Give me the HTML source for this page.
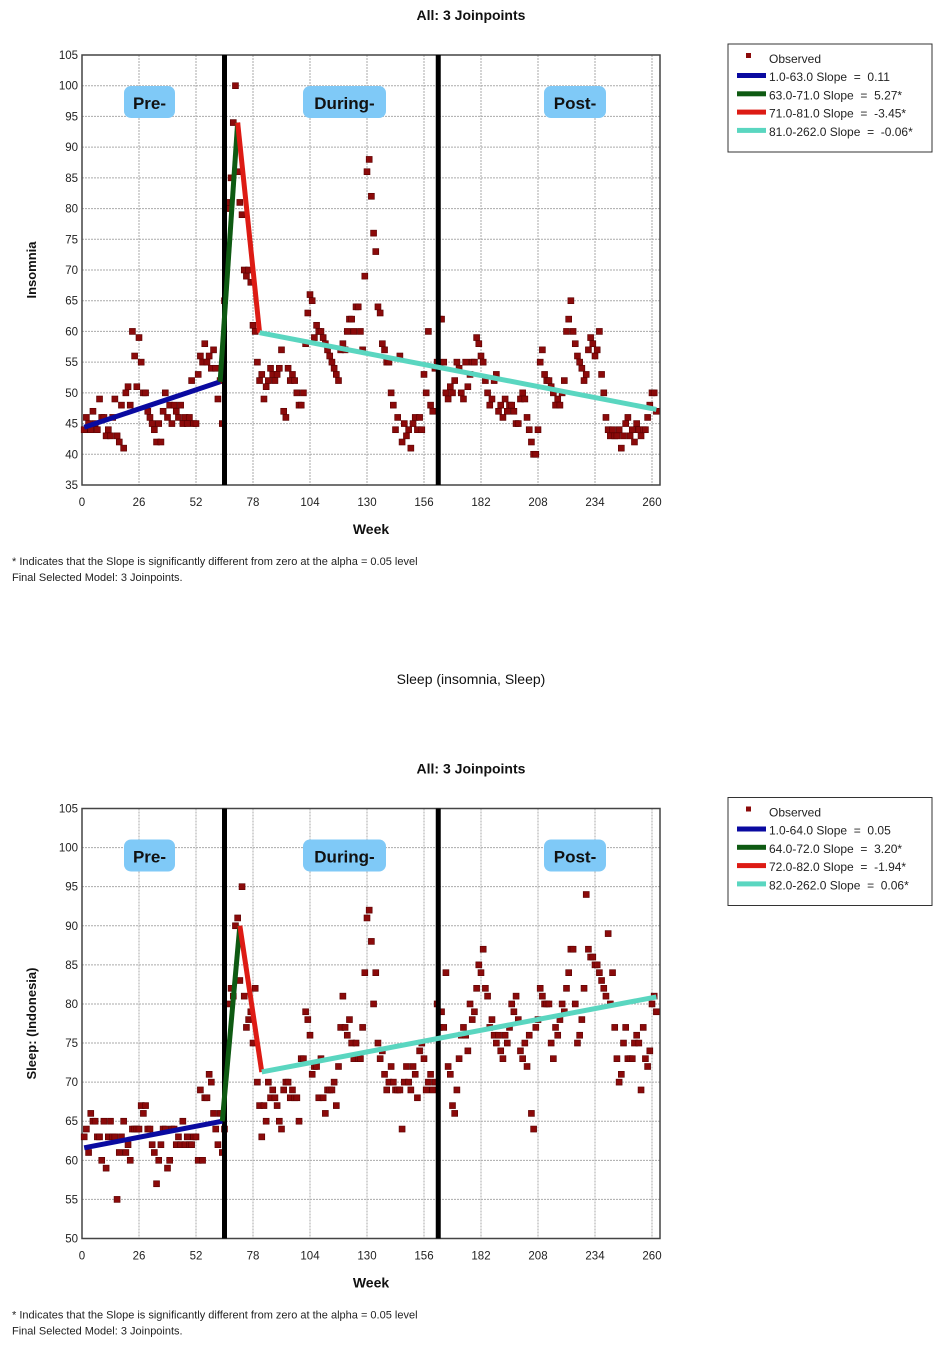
<!DOCTYPE html>
<html><head><meta charset="utf-8">
<style>
html,body{margin:0;padding:0;background:#fff;}
body{width:935px;height:1347px;overflow:hidden;font-family:"Liberation Sans",sans-serif;}
svg text{font-family:"Liberation Sans",sans-serif;}
.pre{white-space:pre;}
</style></head>
<body>
<svg id="root" width="935" height="1347" viewBox="0 0 935 1347" xmlns="http://www.w3.org/2000/svg">
<text x="471" y="684" text-anchor="middle" font-size="14" fill="#111">Sleep (insomnia, Sleep)</text>
</svg>
<script>
// ===== Chart 1: Insomnia =====
const xTicks = [0,26,52,78,104,130,156,182,208,234,260];
const yTicksTop = [35,40,45,50,55,60,65,70,75,80,85,90,95,100,105];
const yTicksBot = [50,55,60,65,70,75,80,85,90,95,100,105];
const insomniaObserved = [
44,46,45,44,47,45,44,49,46,46,
43,44,43,46,49,43,42,48,41,50,
51,48,60,56,51,59,55,50,50,47,
46,45,44,42,45,42,47,50,46,48,
45,48,47,46,48,45,46,45,46,52,
45,45,53,56,55,58,55,56,54,57,54,49,52,
45,65,81,80,85,94,100,86,81,
79,70,69,70,68,61,60,55,
52,53,49,51,52,54,53,52,53,54,57,47,46,54,52,53,52,50,48,48,
50,58,63,66,65,59,61,60,60,59,
58,57,56,55,54,53,52,57,58,57,
60,62,62,60,64,64,60,57,69,86,
88,82,76,73,64,63,58,57,55,55,
50,48,44,46,56,42,45,43,44,41,
45,46,44,46,44,53,50,60,48,47,54,55,
62,62,55,50,49,51,50,52,
55,54,50,49,55,51,53,55,55,59,
58,56,55,52,50,48,49,52,53,47,
48,46,49,47,48,48,47,45,45,49,
50,49,46,44,42,40,40,44,55,57,
53,52,52,51,50,48,49,48,50,52,
60,62,65,60,58,56,55,54,52,53,
57,59,58,56,57,60,53,50,46,44,
43,44,43,43,44,41,43,45,46,43,
44,42,45,44,43,44,44,46,48,50,50,47];
const insomniaJoinWeeks = [1,63,71,81,262];
const insomniaJoinValues = [44.4,51.8,94,59.8,47.3];
const insomniaLegend = ["1.0-63.0 Slope  =  0.11","63.0-71.0 Slope  =  5.27*","71.0-81.0 Slope  =  -3.45*","81.0-262.0 Slope  =  -0.06*"];

// ===== Chart 2: Sleep =====
const sleepObserved = [
63,64,61,66,65,65,63,63,60,65,
59,63,65,63,63,55,61,63,65,61,
62,60,64,64,64,64,67,66,67,64,
64,62,61,57,60,62,64,64,59,60,
64,64,62,63,62,65,62,63,62,62,
63,63,60,69,60,68,68,71,70,66,64,62,66,
61,64,75,80,82,81,90,91,83,
95,81,77,78,79,75,82,70,67,63,
67,65,70,68,69,68,67,65,64,69,70,70,68,69,68,68,65,73,
73,79,78,76,71,72,72,68,73,68,
66,69,69,69,70,67,72,77,81,77,
76,78,75,73,75,73,73,77,84,91,
92,88,80,84,75,73,74,71,69,70,
72,70,69,69,69,64,70,72,70,69,
72,71,68,74,75,73,69,70,71,69,70,80,
77,79,77,84,72,71,67,66,
69,73,76,77,76,74,80,78,79,82,
85,84,87,82,81,77,78,76,75,76,
74,73,76,75,77,80,79,81,78,74,
73,75,72,76,66,64,77,78,82,81,
80,80,80,75,73,77,76,78,80,79,
82,84,87,87,80,75,76,78,82,94,
87,86,86,85,85,84,83,82,81,89,
80,84,77,73,70,71,75,77,73,73,
73,75,76,75,69,77,73,72,74,80,81,79];
const sleepJoinWeeks = [1,64,72,82,262];
const sleepJoinValues = [61.6,65,90,71.3,80.9];
const sleepLegend = ["1.0-64.0 Slope  =  0.05","64.0-72.0 Slope  =  3.20*","72.0-82.0 Slope  =  -1.94*","82.0-262.0 Slope  =  0.06*"];

const phaseWeeks = [65, 162.5];
const segColors = ["#0a0aa0","#0e5a12","#dd1b14","#5ad6c0"];
const NS = "http://www.w3.org/2000/svg";
const root = document.getElementById('root');

function mk(tag, attrs, parent){
  const e = document.createElementNS(NS, tag);
  for (const k in attrs) e.setAttribute(k, attrs[k]);
  (parent||root).appendChild(e);
  return e;
}

function drawChart(oy, yMin, yMax, yTicks, observed, jw, jv, legendTexts, yTitle, prefix){
  const L=82, R=660, T=oy+55, B=oy+485;
  const xs = w => L + w*(652-82)/260;
  const ys = v => B - (v-yMin)*(B-T)/(yMax-yMin);
  const g = mk('g',{});
  
  
  const t = mk('text',{x:471,y:oy+20,'text-anchor':'middle','font-size':14,'font-weight':'bold',fill:'#111'},g);
  t.textContent='All: 3 Joinpoints';
  
  
  xTicks.forEach(v=>{
    const ln = mk('line',{x1:xs(v),x2:xs(v),y1:T,y2:B,stroke:'#aaa','stroke-width':1,'stroke-dasharray':'2,1'},g);
    
    
    const tl = mk('text',{x:xs(v),y:B+21,'text-anchor':'middle','font-size':11.5,fill:'#222'},g);
    tl.textContent=v;
    
    
  });
  yTicks.forEach(v=>{
    const ln = mk('line',{x1:L,x2:R,y1:ys(v),y2:ys(v),stroke:'#aaa','stroke-width':1,'stroke-dasharray':'2,1'},g);
    
    
    const tl = mk('text',{x:L-4,y:ys(v)+4,'text-anchor':'end','font-size':11.5,fill:'#222'},g);
    tl.textContent=v;
    
    
  });
  const fr = mk('rect',{x:L,y:T,width:R-L,height:B-T,fill:'none',stroke:'#444','stroke-width':1.5},g);
  
  
  observed.forEach((v,i)=>{
    const r = mk('rect',{x:xs(i+1)-3,y:ys(v)-3,width:6,height:6,fill:'#8b0a0a',stroke:'#5a0000','stroke-width':0.6},g);
    
    
  });
  phaseWeeks.forEach(w=>{
    const pl = mk('line',{x1:xs(w),x2:xs(w),y1:T,y2:B,stroke:'#000','stroke-width':5},g);
    
    
  });
  for(let i=0;i<4;i++){
    const s = mk('line',{x1:xs(jw[i]),y1:ys(jv[i]),x2:xs(jw[i+1]),y2:ys(jv[i+1]),stroke:segColors[i],'stroke-width':5},g);
    
    
  }
  [['Pre-',124,51],['During-',303,83],['Post-',544,62]].forEach(p=>{
    const b = mk('rect',{x:p[1],y:oy+86,width:p[2],height:32,rx:7,fill:'#7fc9f7'},g);
    
    
    const tx = mk('text',{x:p[1]+p[2]/2,y:oy+109,'text-anchor':'middle','font-size':17,'font-weight':'bold',fill:'#111'},g);
    tx.textContent=p[0];
    
    
  });
  const xt = mk('text',{x:371,y:oy+534,'text-anchor':'middle','font-size':14,'font-weight':'bold',fill:'#111'},g);
  xt.textContent='Week';
  
  
  const cy = (T+B)/2;
  const yt = mk('text',{x:36,y:cy,'text-anchor':'middle','font-size':13,'font-weight':'bold',fill:'#111',transform:'rotate(-90 36 '+cy+')'},g);
  yt.textContent=yTitle;
  
  
  const f1 = mk('text',{x:12,y:oy+565,'font-size':11,fill:'#222'},g);
  f1.textContent='* Indicates that the Slope is significantly different from zero at the alpha = 0.05 level';
  
  
  const f2 = mk('text',{x:12,y:oy+581,'font-size':11,fill:'#222'},g);
  f2.textContent='Final Selected Model: 3 Joinpoints.';
  
  
  const lg = mk('g',{},g);
  
  
  mk('rect',{x:728,y:oy+44,width:204,height:108,fill:'#fff',stroke:'#333','stroke-width':1},lg);
  mk('rect',{x:746,y:oy+53,width:5,height:5,fill:'#8b0a0a'},lg);
  const ot = mk('text',{x:769,y:oy+63,'font-size':12,fill:'#222'},lg);
  ot.textContent='Observed';
  
  
  legendTexts.forEach((s,i)=>{
    const yy = oy+77+i*18.3;
    mk('rect',{x:737,y:yy-4,width:29,height:5,fill:segColors[i]},lg);
    const lt = mk('text',{x:769,y:yy+4,'font-size':12,fill:'#222','class':'pre'},lg);
    lt.textContent=s;
    
    
  });
}

drawChart(0, 35, 105, yTicksTop, insomniaObserved, insomniaJoinWeeks, insomniaJoinValues, insomniaLegend, 'Insomnia', 'insomnia');
drawChart(753.5, 50, 105, yTicksBot, sleepObserved, sleepJoinWeeks, sleepJoinValues, sleepLegend, 'Sleep: (Indonesia)', 'sleep');
</script>
</body></html>
